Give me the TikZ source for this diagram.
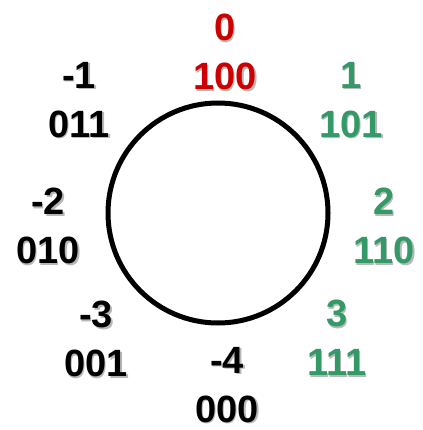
\documentclass[tikz,border=0pt]{standalone}
\usepackage{fontspec}
\setmainfont{Liberation Sans}
\definecolor{zerored}{HTML}{CC0000}
\definecolor{posgreen}{HTML}{339966}
\tikzset{
	codelabel/.style={font=\fontsize{38}{49}\selectfont\bfseries, align=center, inner sep=0pt},
	shadowlabel/.style={codelabel, text=black!28},
}
% value over its 3-bit code, with a grey drop shadow
\newcommand{\codepair}[5]{%
	\node[shadowlabel] (#1s) at ([shift={(1.5,1.5)}]#2) {#4\\#5};
	\node[codelabel, text=#3] (#1) at (#2) {#4\\#5};
}

\begin{document}
\begin{tikzpicture}[x=1pt, y=-1pt]
	\useasboundingbox (0,0) rectangle (422,430);
	\draw[line width=5pt] (218,213) circle (110);
	\codepair{z}{225,52}{zerored}{0}{100}
	\codepair{p1}{351,100}{posgreen}{1}{101}
	\codepair{p2}{384,226}{posgreen}{2}{110}
	\codepair{p3}{337,338}{posgreen}{3}{111}
	\codepair{m4}{227,385}{black}{-4}{000}
	\codepair{m3}{96,339}{black}{-3}{001}
	\codepair{m2}{48,226}{black}{-2}{010}
	\codepair{m1}{79,100}{black}{-1}{011}
\end{tikzpicture}
\end{document}
